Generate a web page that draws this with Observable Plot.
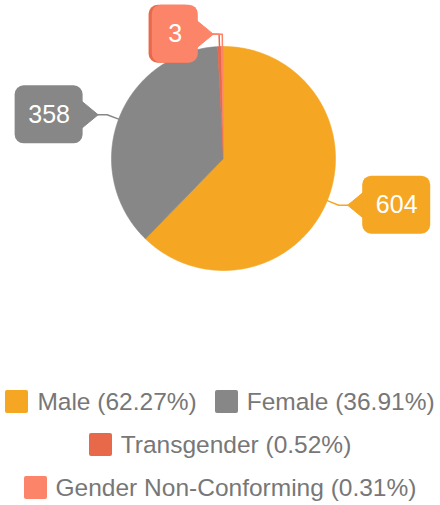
<!DOCTYPE html>
<html><head><meta charset="utf-8">
<script src="https://cdn.jsdelivr.net/npm/d3@7"></script>
<script src="https://cdn.jsdelivr.net/npm/@observablehq/plot@0.6"></script>
<style>
body{margin:0;background:#fff;font-family:"Liberation Sans",Arial,sans-serif;}
#chart{width:440px;height:380px;}
#legend{width:440px;display:flex;flex-wrap:wrap;justify-content:center;column-gap:18px;font-size:24.5px;color:#777;}
.item{display:flex;align-items:center;height:43px;white-space:nowrap;}
.sw{width:23px;height:23px;border-radius:2px;margin-right:9px;}
</style></head><body><div id="chart"></div><div id="legend"></div>
<script>
const categories = ["Male", "Female", "Transgender", "Gender Non-Conforming"];
const values = [604, 358, 5, 3];
const colors = ["#F5A623", "#878787", "#E8694A", "#FC8468"];
// the Transgender value label sits under the Gender Non-Conforming one in the reference
const labelVisible = [true, true, false, true];

const W = 440, H = 380, CX = 223, CY = 158, R = 112;
const u = p => p / R;
const total = d3.sum(values);
const arcs = d3.pie().sort(null).value(d => d)(values);
const marks = [];
categories.forEach((c, i) => {
  const a = arcs[i];
  const pts = [{x: 0, y: 0}];
  const n = Math.max(2, Math.ceil((a.endAngle - a.startAngle) / (Math.PI / 360)));
  for (let k = 0; k <= n; k++) {
    const t = a.startAngle + (a.endAngle - a.startAngle) * k / n;
    pts.push({x: Math.sin(t), y: Math.cos(t)});
  }
  pts.push({x: 0, y: 0});
  marks.push(Plot.line(pts, {x: "x", y: "y", fill: colors[i], stroke: colors[i], strokeWidth: 0.6}));
});
categories.forEach((c, i) => {
  const a = arcs[i];
  const m = (a.startAngle + a.endAngle) / 2;
  const s = Math.sin(m), co = Math.cos(m);
  const dir = s >= 0 ? 1 : -1;
  const anchor = {x: s, y: co};
  const elbow = {x: s * 1.11, y: co * 1.11};
  const tip = {x: elbow.x + dir * u(9), y: elbow.y};
  const label = String(values[i]);
  const w = Math.max(46, 26 + 14 * label.length);
  const edge = tip.x + dir * u(15);
  const far = edge + dir * u(w);
  const bx1 = Math.min(edge, far), bx2 = Math.max(edge, far);
  marks.push(Plot.line([anchor, elbow, tip], {x: "x", y: "y", stroke: colors[i], strokeWidth: 1.5}));
  marks.push(Plot.line([tip, {x: edge + dir * u(2), y: tip.y + u(14)}, {x: edge + dir * u(2), y: tip.y - u(14)}, tip],
    {x: "x", y: "y", fill: colors[i], stroke: colors[i], strokeWidth: 1}));
  marks.push(Plot.rect([{x1: bx1, x2: bx2, y1: tip.y - u(29), y2: tip.y + u(29)}],
    {x1: "x1", x2: "x2", y1: "y1", y2: "y2", fill: colors[i], rx: 9}));
  if (labelVisible[i]) {
    marks.push(Plot.text([{x: (bx1 + bx2) / 2, y: tip.y, t: label}],
      {x: "x", y: "y", text: "t", fill: "white", fontSize: 25}));
  }
});

const chart = Plot.plot({
  width: W, height: H, margin: 0,
  x: {domain: [-CX / R, (W - CX) / R], range: [0, W], axis: null},
  y: {domain: [(CY - H) / R, CY / R], range: [H, 0], axis: null},
  style: {fontFamily: "'Liberation Sans', Arial, sans-serif", background: "white"},
  marks
});
document.getElementById("chart").appendChild(chart);

const legend = document.getElementById("legend");
categories.forEach((c, i) => {
  const item = document.createElement("div");
  item.className = "item";
  const sw = document.createElement("div");
  sw.className = "sw";
  sw.style.background = colors[i];
  const tx = document.createElement("span");
  tx.textContent = `${c} (${(values[i] / total * 100).toFixed(2)}%)`;
  item.appendChild(sw);
  item.appendChild(tx);
  legend.appendChild(item);
});
</script>
</body></html>
